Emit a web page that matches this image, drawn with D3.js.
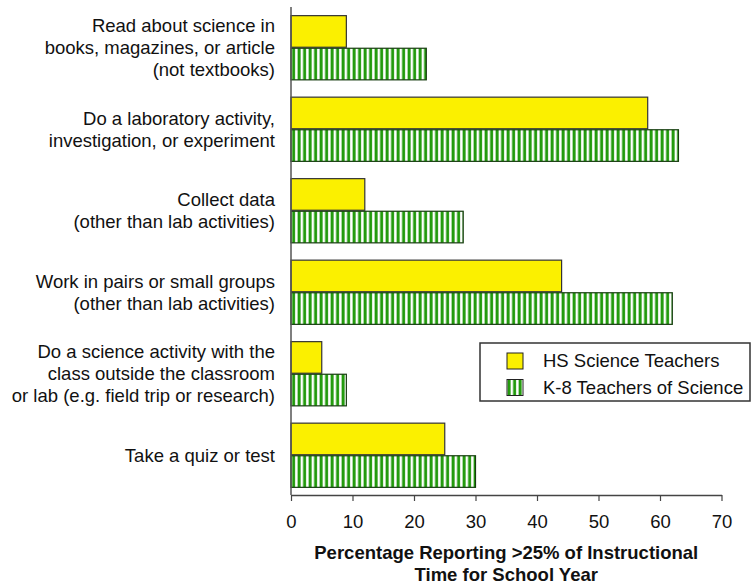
<!DOCTYPE html>
<html>
<head>
<meta charset="utf-8">
<script src="https://cdn.jsdelivr.net/npm/d3@7"></script>
<style>
  body { margin: 0; background: #fff; }
  text { font-family: "Liberation Sans", Arial, sans-serif; fill: #111; }
</style>
</head>
<body>
<div id="plot"></div>
<script>
// categories (one entry per line of the label)
var categories = [
  ["Read about science in", "books, magazines, or article", "(not textbooks)"],
  ["Do a laboratory activity,", "investigation, or experiment"],
  ["Collect data", "(other than lab activities)"],
  ["Work in pairs or small groups", "(other than lab activities)"],
  ["Do a science activity with the", "class outside the classroom", "or lab (e.g. field trip or research)"],
  ["Take a quiz or test"]
];
var seriesNames = ["HS Science Teachers", "K-8 Teachers of Science"];
var hsValues = [9, 58, 12, 44, 5, 25];
var k8Values = [22, 63, 28, 62, 9, 30];
var xTicks = [0, 10, 20, 30, 40, 50, 60, 70];
var axisTitle = ["Percentage Reporting >25% of Instructional", "Time for School Year"];

var width = 751, height = 586;
var margin = {top: 7, left: 291, right: 30, bottom: 91};
var fs = 18.5;

var svg = d3.select("#plot").append("svg")
  .attr("width", width)
  .attr("height", height);

// stripe pattern for the K-8 series
var defs = svg.append("defs");
var pat = defs.append("pattern")
  .attr("id", "stripes")
  .attr("patternUnits", "userSpaceOnUse")
  .attr("width", 5.5)
  .attr("height", 10);
pat.append("rect").attr("width", 5.5).attr("height", 10).attr("fill", "#fff");
pat.append("rect").attr("x", 0.6).attr("width", 3).attr("height", 10).attr("fill", "#229a0c");

var x = d3.scaleLinear()
  .domain([0, 70])
  .range([margin.left, margin.left + 61.5 * 7]);

var y = d3.scaleBand()
  .domain(d3.range(categories.length))
  .range([margin.top, height - margin.bottom + 1])
  .paddingInner(0.2)
  .paddingOuter(0.1);

var sub = d3.scaleBand()
  .domain([0, 1])
  .range([0, y.bandwidth()]);

var rows = categories.map(function(c, i) {
  return {i: i, label: c, vals: [hsValues[i], k8Values[i]]};
});

// bars
var groups = svg.selectAll(".grp")
  .data(rows)
  .enter().append("g")
  .attr("class", "grp")
  .attr("transform", function(d) { return "translate(0," + y(d.i) + ")"; });

groups.selectAll("rect")
  .data(function(d) { return d.vals.map(function(v, k) { return {k: k, v: v}; }); })
  .enter().append("rect")
  .attr("x", x(0))
  .attr("y", function(d) { return sub(d.k) + 0.5; })
  .attr("width", function(d) { return x(d.v) - x(0); })
  .attr("height", sub.bandwidth() - 1)
  .attr("fill", function(d) { return d.k === 0 ? "#fbf000" : "url(#stripes)"; })
  .attr("stroke", function(d) { return d.k === 0 ? "#333" : "#173d10"; })
  .attr("stroke-width", 1.2);

// category labels
groups.append("text")
  .attr("text-anchor", "end")
  .attr("font-size", fs)
  .attr("x", 275)
  .attr("y", y.bandwidth() / 2)
  .each(function(d) {
    var t = d3.select(this);
    var n = d.label.length;
    d.label.forEach(function(line, j) {
      t.append("tspan")
        .attr("x", 275)
        .attr("y", y.bandwidth() / 2 + (j - (n - 1) / 2) * 22)
        .attr("dy", "0.35em")
        .text(line);
    });
  });

// x axis
var axisY = height - margin.bottom;
var xAxis = svg.append("g")
  .attr("transform", "translate(0," + axisY + ")")
  .call(d3.axisBottom(x).tickValues(xTicks).tickSize(6).tickPadding(14).tickSizeOuter(0));
xAxis.select(".domain").attr("stroke", "#444").attr("stroke-width", 1.5);
xAxis.selectAll(".tick line").attr("stroke", "#444").attr("stroke-width", 1.2);
xAxis.selectAll(".tick text")
  .attr("font-size", fs)
  .attr("font-family", "Liberation Sans, Arial, sans-serif")
  .attr("fill", "#111");

// y axis line
svg.append("line")
  .attr("x1", x(0)).attr("x2", x(0))
  .attr("y1", margin.top).attr("y2", axisY)
  .attr("stroke", "#555")
  .attr("stroke-width", 1.5);

// axis title
svg.append("text")
  .attr("text-anchor", "middle")
  .attr("font-size", fs)
  .attr("font-weight", "bold")
  .selectAll("tspan")
  .data(axisTitle)
  .enter().append("tspan")
  .attr("x", (x(0) + x(70)) / 2)
  .attr("y", function(d, j) { return 553 + j * 22; })
  .attr("dy", "0.35em")
  .text(function(d) { return d; });

// legend
var legend = svg.append("g").attr("transform", "translate(480,343)");
legend.append("rect")
  .attr("width", 270).attr("height", 58)
  .attr("fill", "#fff")
  .attr("stroke", "#333")
  .attr("stroke-width", 1.5);
var items = legend.selectAll(".item")
  .data(seriesNames)
  .enter().append("g")
  .attr("class", "item")
  .attr("transform", function(d, k) { return "translate(27," + (10 + k * 26.5) + ")"; });
items.append("rect")
  .attr("width", 16).attr("height", 16)
  .attr("fill", function(d, k) { return k === 0 ? "#fbf000" : "url(#stripes)"; })
  .attr("stroke", "#222")
  .attr("stroke-width", 1);
items.append("text")
  .attr("x", 36)
  .attr("y", 8)
  .attr("dy", "0.35em")
  .attr("font-size", fs)
  .text(function(d) { return d; });
</script>
</body>
</html>
